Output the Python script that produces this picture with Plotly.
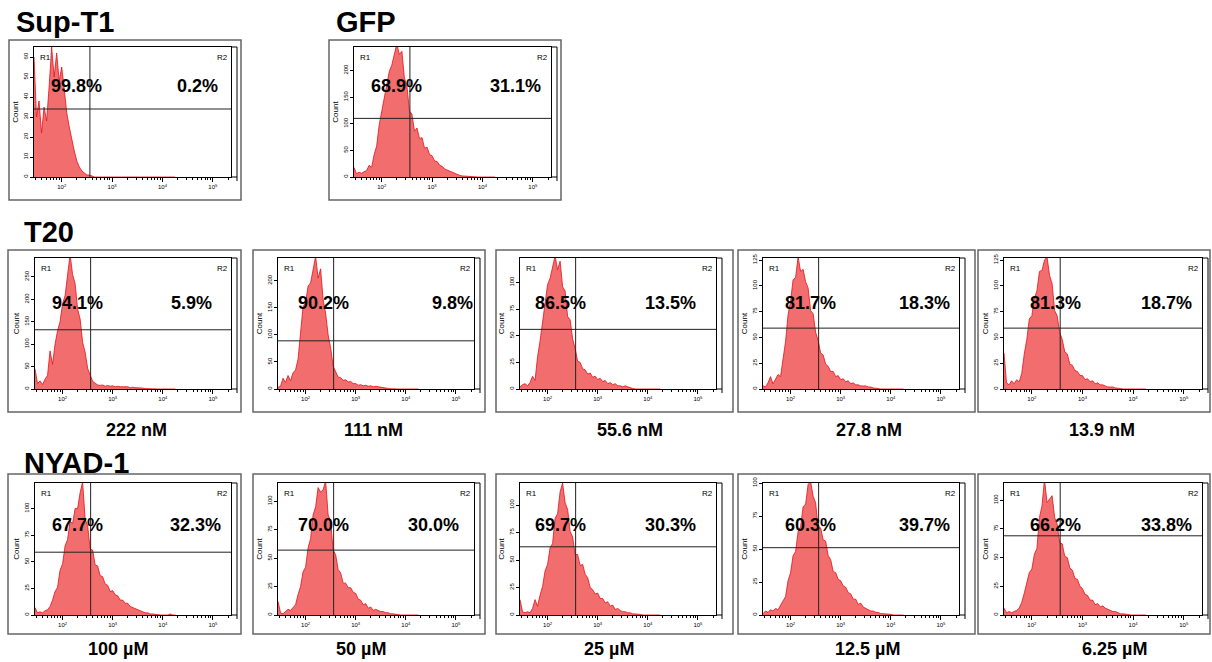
import plotly.graph_objects as go

# ---------------- data ----------------
LOG_CH = [1.45, 1.50, 1.55, 1.60, 1.65, 1.70, 1.75, 1.80, 1.85, 1.90,
          1.95, 2.00, 2.05, 2.10, 2.15, 2.20, 2.25, 2.30, 2.35, 2.40,
          2.45, 2.50, 2.55, 2.60, 2.65, 2.70, 2.75, 2.80, 2.85, 2.90,
          2.95, 3.00, 3.05, 3.10, 3.15, 3.20, 3.25, 3.30, 3.35, 3.40,
          3.45, 3.50, 3.55, 3.60, 3.65, 3.70, 3.75, 3.80, 3.85, 3.90,
          3.95, 4.00, 4.05, 4.10, 4.15, 4.20, 4.25]
CHANNEL = [10 ** v for v in LOG_CH]

SUPT1 = [60, 30, 38, 22, 35, 28, 45, 65, 50, 62,
         48, 55, 44, 32, 25, 18, 13, 8, 5, 3,
         2, 1, 1, 0.5, 0, 0, 0, 0, 0, 0,
         0, 0, 0, 0, 0, 0, 0, 0, 0, 0,
         0, 0, 0, 0, 0, 0, 0, 0, 0, 0,
         0, 0, 0, 0, 0, 0, 0]
GFP = [18, 6, 9, 7, 10, 12, 22, 18, 42, 58,
       98, 122, 152, 174, 198, 210, 228, 250, 230, 236,
       186, 172, 124, 118, 86, 92, 72, 74, 54, 56,
       42, 40, 30, 29, 22, 20, 15, 13, 10, 8,
       6, 4, 3, 2, 1.5, 1, 0.5, 0.5, 0, 0,
       0, 0, 0, 0, 0, 0, 0]
T20_222 = [45, 12, 18, 10, 22, 30, 85, 55, 100, 130,
           150, 190, 208, 262, 300, 255, 235, 178, 156, 104,
           82, 46, 32, 17, 13, 9, 8, 9, 6, 8,
           6, 7, 5, 6, 5, 5, 4, 5, 3, 4,
           3, 3, 2, 2, 1, 0.5, 0, 0, 0, 0,
           0, 0, 0, 0, 0, 0, 0]
T20_111 = [3, 5, 20, 12, 25, 15, 30, 35, 55, 100,
           152, 160, 190, 196, 222, 245, 205, 222, 165, 140,
           100, 76, 42, 32, 22, 21, 16, 17, 13, 14,
           10, 10, 7, 8, 6, 7, 5, 6, 4, 5,
           4, 4, 3, 2, 1, 0.5, 0, 0, 0, 0,
           0, 0, 0, 0, 0, 0, 0]
T20_55_6 = [2, 4, 5, 3, 6, 12, 8, 30, 45, 64,
            78, 98, 104, 116, 125, 112, 120, 96, 92, 68,
            65, 47, 38, 26, 25, 19, 18, 14, 15, 11,
            12, 9, 10, 7, 8, 5, 6, 4, 5, 3,
            3, 2, 3, 2, 1, 0.5, 0, 0, 0, 0,
            0, 0, 0, 0, 0, 0, 0]
T20_27_8 = [3, 2, 6, 12, 5, 9, 14, 12, 32, 46,
            72, 85, 106, 108, 128, 114, 116, 104, 98, 76,
            73, 55, 47, 35, 33, 24, 22, 17, 17, 12,
            13, 9, 10, 7, 8, 5, 6, 4, 4, 3,
            3, 3, 2, 2, 1, 1, 0.5, 0, 0, 0,
            0, 0, 0, 0, 0, 0, 0]
T20_13_9 = [35, 6, 4, 8, 5, 9, 7, 15, 34, 48,
            68, 71, 88, 95, 114, 115, 125, 128, 110, 102,
            76, 71, 55, 48, 36, 34, 24, 23, 18, 17,
            13, 13, 9, 10, 7, 8, 5, 6, 4, 4,
            3, 2, 2, 2, 1, 1, 0.5, 0, 0, 0,
            0, 0, 0, 0, 0, 0, 0]
NYAD_100 = [7, 2, 3, 2, 4, 5, 8, 14, 22, 26,
            42, 48, 65, 71, 88, 86, 100, 100, 115, 125,
            90, 84, 62, 61, 47, 46, 37, 36, 29, 28,
            22, 23, 19, 18, 14, 14, 11, 11, 8, 7,
            6, 5, 4, 3, 2, 2, 1, 1, 0.5, 0,
            0, 0, 0, 0, 1, 0, 0]
NYAD_50 = [12, 2, 1, 3, 5, 4, 7, 9, 18, 25,
           38, 42, 59, 67, 88, 95, 112, 108, 110, 118,
           88, 82, 57, 53, 40, 37, 28, 28, 24, 24,
           20, 19, 14, 13, 9, 10, 6, 7, 4, 5,
           4, 3, 3, 2, 2, 1, 1, 0.5, 0, 0,
           0, 0, 0, 0, 0, 0, 0]
NYAD_25 = [14, 3, 2, 3, 2, 6, 14, 8, 18, 26,
           40, 46, 61, 65, 88, 92, 112, 120, 102, 96,
           76, 71, 55, 55, 45, 46, 37, 34, 25, 23,
           19, 20, 15, 15, 11, 12, 8, 9, 5, 6,
           4, 3, 3, 2, 2, 1, 1, 1, 0.5, 0,
           0, 0, 0, 0, 0, 0, 0]
NYAD_12_5 = [1, 3, 2, 4, 3, 5, 4, 7, 11, 14,
             26, 32, 45, 48, 63, 67, 82, 84, 99, 101,
             90, 85, 66, 66, 57, 56, 45, 42, 33, 32,
             27, 26, 22, 21, 17, 16, 12, 12, 8, 9,
             6, 5, 4, 3, 3, 2, 2, 1, 1, 1,
             0.5, 0.5, 0, 0, 0, 0, 0]
NYAD_6_25 = [6, 2, 3, 2, 3, 4, 6, 11, 19, 27,
             37, 40, 53, 58, 85, 95, 118, 98, 101, 104,
             85, 79, 63, 62, 51, 50, 41, 39, 32, 31,
             25, 23, 18, 17, 13, 13, 9, 10, 7, 8,
             6, 5, 4, 3, 3, 2, 1, 1, 1, 0.5,
             0, 0, 0, 0, 0, 0, 0]

PANEL_COUNTS = [SUPT1, GFP, T20_222, T20_111, T20_55_6, T20_27_8, T20_13_9,
                NYAD_100, NYAD_50, NYAD_25, NYAD_12_5, NYAD_6_25]
PCT_R1 = ["99.8%", "68.9%", "94.1%", "90.2%", "86.5%", "81.7%", "81.3%",
          "67.7%", "70.0%", "69.7%", "60.3%", "66.2%"]
PCT_R2 = ["0.2%", "31.1%", "5.9%", "9.8%", "13.5%", "18.3%", "18.7%",
          "32.3%", "30.0%", "30.3%", "39.7%", "33.8%"]
Y_MAX = [65, 244, 292, 242, 123, 127, 127, 124, 116, 120, 100, 115]
Y_TICKS = [[0, 10, 20, 30, 40, 50, 60], [0, 50, 100, 150, 200],
           [0, 50, 100, 150, 200, 250], [0, 50, 100, 150, 200],
           [0, 25, 50, 75, 100], [0, 25, 50, 75, 100, 125], [0, 25, 50, 75, 100, 125],
           [0, 25, 50, 75, 100], [0, 25, 50, 75, 100], [0, 25, 50, 75, 100],
           [0, 25, 50, 75, 100], [0, 25, 50, 75, 100]]
GATE_X = 363
GATE_Y = [34, 110, 132, 89, 56, 59, 59, 59, 57, 62, 51, 69]
CAPTIONS = [None, None, "222 nM", "111 nM", "55.6 nM", "27.8 nM", "13.9 nM",
            "100 µM", "50 µM", "25 µM", "12.5 µM", "6.25 µM"]
GROUP_TITLES = ["Sup-T1", "GFP", "T20", "NYAD-1"]
X_TICKVALS = [1e2, 1e3, 1e4, 1e5]
X_TICKTEXT = ["10<sup>2</sup>", "10<sup>3</sup>", "10<sup>4</sup>", "10<sup>5</sup>"]
X_MINOR = [m * 10 ** e for e in range(1, 6) for m in range(2, 10)]
X_RANGE = [1.45, 5.36]

# ---------------- layout geometry (pixels) ----------------
W, H = 1212, 662
FONT = "Liberation Sans, Arial, sans-serif"

def fx(p):
    return p / W

def fy(p):
    return 1 - p / H

COLS = [(35, 231, 8, 241), (278, 474, 253, 485), (520, 716, 496, 733),
        (763, 959, 738, 975), (1004, 1202, 978, 1210)]
ROWS = {1: (47, 177, 40, 200), 2: (258, 389, 250, 412), 3: (483, 615, 474, 634)}
GEOM = [(34, 231, 9, 241, 1), (354, 551, 329, 561, 1)]
for r in (2, 3):
    for c in COLS:
        GEOM.append((c[0], c[1], c[2], c[3], r))
PCT_OFF = [(42, 163), (42, 161), (42, 156), (45, 174), (40, 150), (47, 161), (51, 162),
           (42, 161), (45, 155), (40, 150), (47, 161), (51, 162)]
PCT_Y = {1: 86, 2: 303, 3: 525}
CAP_X = [None, None, 136, 373, 630, 869, 1102, 118, 361, 609, 867, 1114]
CAP_Y = {2: 430, 3: 649}

fig = go.Figure()
shapes = []
annotations = []

for i, counts in enumerate(PANEL_COUNTS):
    L, R, OL, OR, row = GEOM[i]
    top, bot, otop, obot = ROWS[row]
    sfx = "" if i == 0 else str(i + 1)
    xa, ya = "x" + sfx, "y" + sfx

    fig.add_trace(go.Scatter(
        x=CHANNEL, y=counts, xaxis=xa, yaxis=ya, mode="lines",
        line=dict(color="#e3121b", width=0.8), fill="tozeroy",
        fillcolor="#f26d6d", hoverinfo="skip", showlegend=False))
    fig.add_trace(go.Scatter(
        x=[GATE_X, GATE_X], y=[0, Y_MAX[i]], xaxis=xa, yaxis=ya, mode="lines",
        line=dict(color="#222222", width=1), hoverinfo="skip", showlegend=False))
    fig.add_trace(go.Scatter(
        x=[10 ** X_RANGE[0], 10 ** X_RANGE[1]], y=[GATE_Y[i], GATE_Y[i]],
        xaxis=xa, yaxis=ya, mode="lines",
        line=dict(color="#222222", width=1), hoverinfo="skip", showlegend=False))

    fig.update_layout(**{
        "xaxis" + sfx: dict(
            domain=[fx(L), fx(R)], anchor=ya, type="log", range=X_RANGE,
            tickmode="array", tickvals=X_TICKVALS, ticktext=X_TICKTEXT,
            ticks="outside", ticklen=4, tickwidth=1, tickcolor="black",
            showline=True, linecolor="black", linewidth=1, mirror=True,
            showgrid=False, zeroline=False, automargin=False,
            tickfont=dict(size=6, family=FONT, color="black"),
            minor=dict(tickvals=X_MINOR, ticks="outside", ticklen=2,
                       tickcolor="black", tickwidth=0.7, showgrid=False)),
        "yaxis" + sfx: dict(
            domain=[fy(bot), fy(top)], anchor=xa, range=[0, Y_MAX[i]],
            tickmode="array", tickvals=Y_TICKS[i], tickangle=-90,
            ticks="outside", ticklen=3, tickwidth=1, tickcolor="black",
            showline=True, linecolor="black", linewidth=1, mirror=True,
            showgrid=False, zeroline=False, automargin=False,
            tickfont=dict(size=6, family=FONT, color="black"),
            title=dict(text="Count", font=dict(size=8, family=FONT, color="black"),
                       standoff=2)),
    })

    # outer grey box
    shapes.append(dict(type="rect", xref="paper", yref="paper",
                       x0=fx(OL), x1=fx(OR), y0=fy(obot), y1=fy(otop),
                       line=dict(color="#666666", width=1.5)))
    # extra right frame line
    shapes.append(dict(type="line", xref="paper", yref="paper",
                       x0=fx(R), x1=fx(R + 6), y0=fy(top), y1=fy(top),
                       line=dict(color="black", width=1)))
    shapes.append(dict(type="line", xref="paper", yref="paper",
                       x0=fx(R + 6), x1=fx(R + 6), y0=fy(top), y1=fy(bot + 4),
                       line=dict(color="black", width=1)))
    shapes.append(dict(type="line", xref="paper", yref="paper",
                       x0=fx(R), x1=fx(R + 6), y0=fy(bot), y1=fy(bot),
                       line=dict(color="black", width=1)))

    # R1 / R2
    annotations.append(dict(x=fx(L + 4), y=fy(top + 10), xref="paper", yref="paper",
                            text="R1", showarrow=False, xanchor="left", yanchor="middle",
                            font=dict(size=8, family=FONT, color="black")))
    annotations.append(dict(x=fx(R - 1), y=fy(top + 10), xref="paper", yref="paper",
                            text="R2", showarrow=False, xanchor="right", yanchor="middle",
                            font=dict(size=8, family=FONT, color="black")))
    # percentages
    o1, o2 = PCT_OFF[i]
    for off, txt in ((o1, PCT_R1[i]), (o2, PCT_R2[i])):
        annotations.append(dict(x=fx(L + off), y=fy(PCT_Y[row]), xref="paper", yref="paper",
                                text="<b>%s</b>" % txt, showarrow=False,
                                xanchor="center", yanchor="middle",
                                font=dict(size=18, family=FONT, color="black")))
    if CAPTIONS[i]:
        annotations.append(dict(x=fx(CAP_X[i]), y=fy(CAP_Y[row]), xref="paper", yref="paper",
                                text="<b>%s</b>" % CAPTIONS[i], showarrow=False,
                                xanchor="center", yanchor="middle",
                                font=dict(size=18, family=FONT, color="black")))

TITLE_POS = [(14, 22), (334, 22), (22, 232), (22, 463)]
for t, (px, py) in zip(GROUP_TITLES, TITLE_POS):
    annotations.append(dict(x=fx(px), y=fy(py), xref="paper", yref="paper",
                            text="<b>%s</b>" % t, showarrow=False,
                            xanchor="left", yanchor="middle",
                            font=dict(size=29, family=FONT, color="black")))

fig.update_layout(width=W, height=H, margin=dict(l=0, r=0, t=0, b=0),
                  paper_bgcolor="white", plot_bgcolor="white",
                  shapes=shapes, annotations=annotations, showlegend=False)

fig.write_html("out.html")
